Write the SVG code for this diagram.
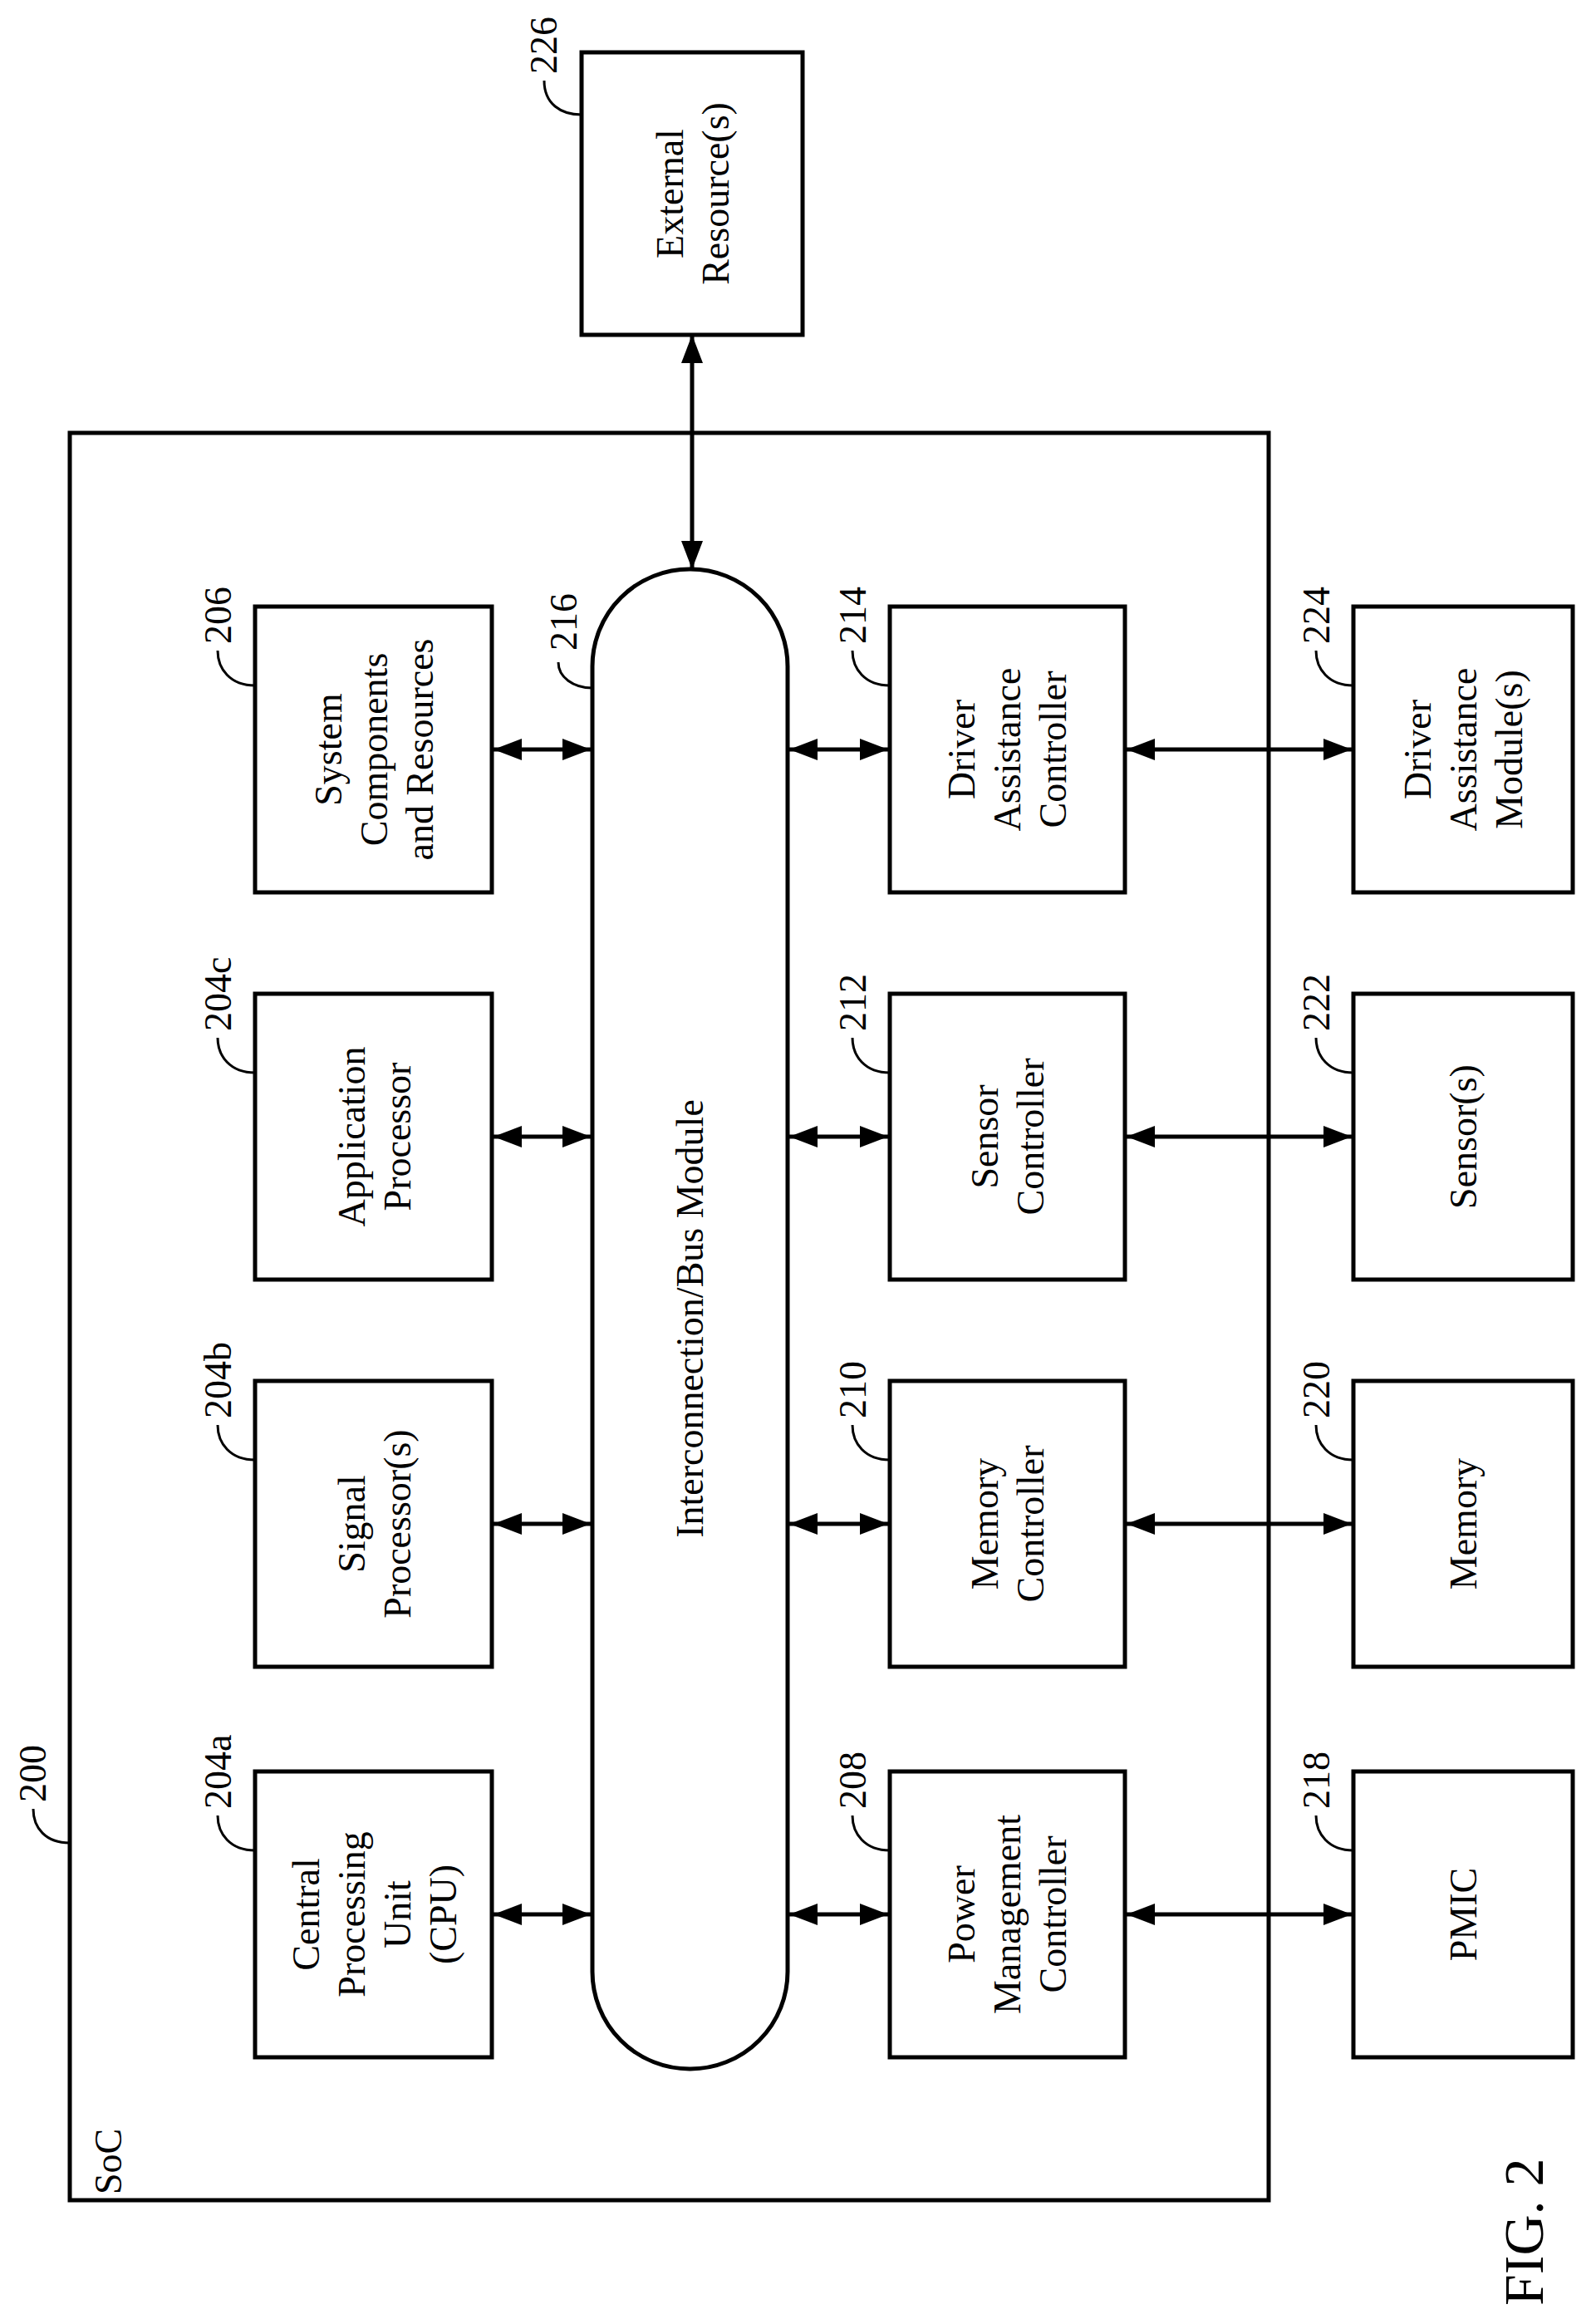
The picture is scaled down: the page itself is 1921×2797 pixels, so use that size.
<svg xmlns="http://www.w3.org/2000/svg" width="1921" height="2797" viewBox="0 0 1921 2797">
<style>
.b{fill:#fff;stroke:#000;stroke-width:5}
.t{font-family:"Liberation Serif","Times New Roman",serif;font-size:46px;fill:#000}
.c{text-anchor:middle;dominant-baseline:central}
.l{fill:none;stroke:#000;stroke-width:3}
.a{stroke:#000;stroke-width:5;marker-start:url(#ah);marker-end:url(#ah)}
</style>
<defs>
<marker id="ah" markerUnits="userSpaceOnUse" markerWidth="34" markerHeight="26" viewBox="0 0 34 26" refX="34" refY="13" orient="auto-start-reverse"><path d="M0,0 L34,13 L0,26 z" fill="#000"/></marker>
</defs>
<rect width="1921" height="2797" fill="#fff"/>
<g id="soc">
<rect x="84" y="521" width="1443" height="2127" fill="none" stroke="#000" stroke-width="5"/>
<text class="t" transform="translate(146,2641) rotate(-90)">SoC</text>
<text class="t" transform="translate(55,2169) rotate(-90)">200</text>
<path class="l" d="M84,2218 C55,2218 40,2200 40,2177"/>
</g>
<g id="fig"><text class="t" style="font-size:68px" transform="translate(1857,2775) rotate(-90)">FIG. 2</text></g>
<g id="n226">
<rect class="b" x="700" y="63" width="266" height="340"/>
<text class="t c" transform="translate(833,233) rotate(-90)"><tspan x="0" y="-27">External</tspan><tspan x="0" y="28">Resource(s)</tspan></text>
<text class="t" transform="translate(670,89) rotate(-90)">226</text>
<path class="l" d="M700,138 C675,138 655,125 655,97"/>
</g>
<g id="n216">
<rect class="b" x="713" y="685" width="235" height="1805" rx="117"/>
<text class="t c" transform="translate(830,1587) rotate(-90)">Interconnection/Bus Module</text>
<text class="t" transform="translate(694,783) rotate(-90)">216</text>
<path class="l" d="M713,828 C690,828 672,815 672,797"/>
</g>
<g id="n206"><rect class="b" x="307" y="730" width="285" height="344"/>
<text class="t c" transform="translate(450,902) rotate(-90)"><tspan x="0" y="-55">System</tspan><tspan x="0" y="0">Components</tspan><tspan x="0" y="55">and Resources</tspan></text>
<text class="t" transform="translate(278,775) rotate(-90)">206</text><path class="l" d="M307,825 C277,825 262,805 262,783"/></g>
<g id="n204c"><rect class="b" x="307" y="1196" width="285" height="344"/>
<text class="t c" transform="translate(450,1368) rotate(-90)"><tspan x="0" y="-27">Application</tspan><tspan x="0" y="28">Processor</tspan></text>
<text class="t" transform="translate(278,1241) rotate(-90)">204c</text><path class="l" d="M307,1291 C277,1291 262,1271 262,1249"/></g>
<g id="n204b"><rect class="b" x="307" y="1662" width="285" height="344"/>
<text class="t c" transform="translate(450,1834) rotate(-90)"><tspan x="0" y="-27">Signal</tspan><tspan x="0" y="28">Processor(s)</tspan></text>
<text class="t" transform="translate(278,1707) rotate(-90)">204b</text><path class="l" d="M307,1757 C277,1757 262,1737 262,1715"/></g>
<g id="n204a"><rect class="b" x="307" y="2132" width="285" height="344"/>
<text class="t c" transform="translate(450,2304) rotate(-90)"><tspan x="0" y="-82">Central</tspan><tspan x="0" y="-27">Processing</tspan><tspan x="0" y="28">Unit</tspan><tspan x="0" y="83">(CPU)</tspan></text>
<text class="t" transform="translate(278,2177) rotate(-90)">204a</text><path class="l" d="M307,2227 C277,2227 262,2207 262,2185"/></g>
<g id="n214"><rect class="b" x="1071" y="730" width="283" height="344"/>
<text class="t c" transform="translate(1212,902) rotate(-90)"><tspan x="0" y="-55">Driver</tspan><tspan x="0" y="0">Assistance</tspan><tspan x="0" y="55">Controller</tspan></text>
<text class="t" transform="translate(1042,775) rotate(-90)">214</text><path class="l" d="M1071,825 C1041,825 1026,805 1026,783"/></g>
<g id="n212"><rect class="b" x="1071" y="1196" width="283" height="344"/>
<text class="t c" transform="translate(1212,1368) rotate(-90)"><tspan x="0" y="-27">Sensor</tspan><tspan x="0" y="28">Controller</tspan></text>
<text class="t" transform="translate(1042,1241) rotate(-90)">212</text><path class="l" d="M1071,1291 C1041,1291 1026,1271 1026,1249"/></g>
<g id="n210"><rect class="b" x="1071" y="1662" width="283" height="344"/>
<text class="t c" transform="translate(1212,1834) rotate(-90)"><tspan x="0" y="-27">Memory</tspan><tspan x="0" y="28">Controller</tspan></text>
<text class="t" transform="translate(1042,1707) rotate(-90)">210</text><path class="l" d="M1071,1757 C1041,1757 1026,1737 1026,1715"/></g>
<g id="n208"><rect class="b" x="1071" y="2132" width="283" height="344"/>
<text class="t c" transform="translate(1212,2304) rotate(-90)"><tspan x="0" y="-55">Power</tspan><tspan x="0" y="0">Management</tspan><tspan x="0" y="55">Controller</tspan></text>
<text class="t" transform="translate(1042,2177) rotate(-90)">208</text><path class="l" d="M1071,2227 C1041,2227 1026,2207 1026,2185"/></g>
<g id="n224"><rect class="b" x="1629" y="730" width="264" height="344"/>
<text class="t c" transform="translate(1761,902) rotate(-90)"><tspan x="0" y="-55">Driver</tspan><tspan x="0" y="0">Assistance</tspan><tspan x="0" y="55">Module(s)</tspan></text>
<text class="t" transform="translate(1600,775) rotate(-90)">224</text><path class="l" d="M1629,825 C1599,825 1584,805 1584,783"/></g>
<g id="n222"><rect class="b" x="1629" y="1196" width="264" height="344"/>
<text class="t c" transform="translate(1761,1368) rotate(-90)">Sensor(s)</text>
<text class="t" transform="translate(1600,1241) rotate(-90)">222</text><path class="l" d="M1629,1291 C1599,1291 1584,1271 1584,1249"/></g>
<g id="n220"><rect class="b" x="1629" y="1662" width="264" height="344"/>
<text class="t c" transform="translate(1761,1834) rotate(-90)">Memory</text>
<text class="t" transform="translate(1600,1707) rotate(-90)">220</text><path class="l" d="M1629,1757 C1599,1757 1584,1737 1584,1715"/></g>
<g id="n218"><rect class="b" x="1629" y="2132" width="264" height="344"/>
<text class="t c" transform="translate(1761,2304) rotate(-90)">PMIC</text>
<text class="t" transform="translate(1600,2177) rotate(-90)">218</text><path class="l" d="M1629,2227 C1599,2227 1584,2207 1584,2185"/></g>
<g id="connectors">
<line class="a" x1="833" y1="685" x2="833" y2="403"/>
<line class="a" x1="594" y1="902" x2="711" y2="902"/>
<line class="a" x1="594" y1="1368" x2="711" y2="1368"/>
<line class="a" x1="594" y1="1834" x2="711" y2="1834"/>
<line class="a" x1="594" y1="2304" x2="711" y2="2304"/>
<line class="a" x1="950" y1="902" x2="1069" y2="902"/>
<line class="a" x1="950" y1="1368" x2="1069" y2="1368"/>
<line class="a" x1="950" y1="1834" x2="1069" y2="1834"/>
<line class="a" x1="950" y1="2304" x2="1069" y2="2304"/>
<line class="a" x1="1356" y1="902" x2="1627" y2="902"/>
<line class="a" x1="1356" y1="1368" x2="1627" y2="1368"/>
<line class="a" x1="1356" y1="1834" x2="1627" y2="1834"/>
<line class="a" x1="1356" y1="2304" x2="1627" y2="2304"/>
</g>
</svg>
